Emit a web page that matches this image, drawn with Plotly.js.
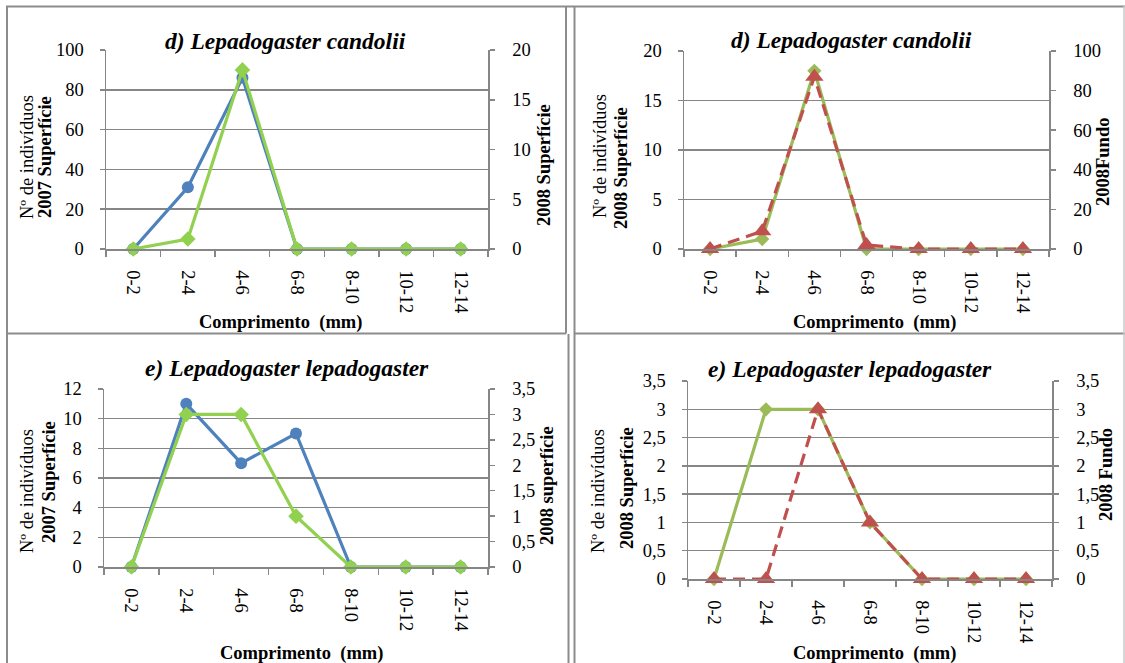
<!DOCTYPE html>
<html>
<head>
<meta charset="utf-8">
<script src="https://cdn.plot.ly/plotly-3.0.1.min.js"></script>
<style>html,body{margin:0;padding:0;background:#fff;}#chart{width:1125px;height:663px;}</style>
</head>
<body>
<div id="chart"></div>
<script>
// ---- data ----
const categories = ['0-2','2-4','4-6','6-8','8-10','10-12','12-14'];
const d_sup2007   = [0, 31, 86, 0, 0, 0, 0];
const d_sup2008   = [0, 1, 18, 0, 0, 0, 0];
const d_fundo2008 = [0, 9, 87, 2, 0, 0, 0];
const e_sup2007   = [0, 11, 7, 9, 0, 0, 0];
const e_sup2008   = [0, 3, 3, 1, 0, 0, 0];
const e_fundo2008 = [0, 0, 3, 1, 0, 0, 0];

const titleD = '<b><i>d) Lepadogaster candolii</i></b>';
const titleE = '<b><i>e) Lepadogaster lepadogaster</i></b>';
const yTitle1 = 'Nº de indivíduos';
const xTitle = '<b>Comprimento  (mm)</b>';

// ---- helpers ----
const W = 1125, H = 663;
const px = v => v / W;
const py = v => 1 - v / H;
const FONT = 'Liberation Serif';
const GRID = '#868686';
const BLUE = '#4F81BD', LIME = '#92D050', OLIVE = '#9BBB59', RED = '#C0504D';
const TS = 18.5;

function xAxis(x0, x1, anchor) {
  return {
    type: 'category', categoryorder: 'array', categoryarray: categories,
    range: [-0.5, 6.5], domain: [px(x0), px(x1)], anchor: anchor,
    showline: true, linecolor: GRID, linewidth: 1.5,
    ticks: 'outside', tickson: 'boundaries', ticklen: 6, tickcolor: GRID, tickwidth: 1.5,
    tickangle: 90, ticklabelstandoff: 16,
    tickfont: {family: FONT, size: TS, color: '#000'},
    showgrid: false, zeroline: false, fixedrange: true
  };
}
function yLeft(y0, y1, anchor, max, dtick) {
  return {
    domain: [py(y1), py(y0)], anchor: anchor, range: [0, max], dtick: dtick,
    showline: true, linecolor: GRID, linewidth: 1.5,
    ticks: 'outside', ticklen: 5, tickcolor: GRID, tickwidth: 1.5,
    showgrid: true, gridcolor: GRID, gridwidth: 1.5, zeroline: false,
    ticklabelstandoff: 12,
    tickfont: {family: FONT, size: TS, color: '#000'}, fixedrange: true
  };
}
function yRight(y0, y1, anchor, over, max, dtick) {
  return {
    domain: [py(y1), py(y0)], anchor: anchor, overlaying: over, side: 'right',
    range: [0, max], dtick: dtick,
    showline: true, linecolor: GRID, linewidth: 1.5,
    ticks: 'outside', ticklen: 5, tickcolor: GRID, tickwidth: 1.5,
    showgrid: false, zeroline: false, ticklabelstandoff: 14,
    tickfont: {family: FONT, size: TS, color: '#000'}, fixedrange: true
  };
}
function line(y, xa, ya, color, symbol, dash, msize) {
  return {
    type: 'scatter', mode: 'lines+markers', x: categories, y: y,
    xaxis: xa, yaxis: ya, cliponaxis: false,
    line: {color: color, width: 3.2, dash: dash || 'solid'},
    marker: {color: color, symbol: symbol, size: msize || 10, line: {width: 0}},
    hoverinfo: 'skip', showlegend: false
  };
}

const traces = [
  line(d_sup2007, 'x', 'y', BLUE, 'circle', null, 12),
  line(d_sup2008, 'x', 'y2', LIME, 'diamond', null, 12),
  line(d_sup2008, 'x2', 'y3', OLIVE, 'diamond', null, 11),
  line(d_fundo2008, 'x2', 'y4', RED, 'triangle-up', '12px,7px', 16),
  line(e_sup2007, 'x3', 'y5', BLUE, 'circle', null, 12),
  line(e_sup2008, 'x3', 'y6', LIME, 'diamond', null, 12),
  line(e_sup2008, 'x4', 'y7', OLIVE, 'diamond', null, 11),
  line(e_fundo2008, 'x4', 'y8', RED, 'triangle-up', '12px,7px', 16)
];

function ann(text, x, y, size, angle) {
  return {text: text, x: px(x), y: py(y), xref: 'paper', yref: 'paper',
    xanchor: 'center', yanchor: 'middle', showarrow: false, textangle: angle || 0,
    font: {family: FONT, size: size, color: '#000'}};
}

const TT = 23.5, AT = 18.5;
const annotations = [
  ann(titleD, 285, 41, TT),
  ann(yTitle1, 27, 157, AT, -90),
  ann('<b>2007 Superfície</b>', 45, 157, AT, -90),
  ann('<b>2008 Superfície</b>', 544, 165, AT, -90),
  ann(xTitle, 280, 322, AT),

  ann(titleD, 851, 40, TT),
  ann(yTitle1, 600, 156, AT, -90),
  ann('<b>2008 Superfície</b>', 621, 168, AT, -90),
  ann('<b>2008Fundo</b>', 1103, 162, AT, -90),
  ann(xTitle, 874, 322, AT),

  ann(titleE, 287, 368, TT),
  ann(yTitle1, 27, 491, AT, -90),
  ann('<b>2007 Superfície</b>', 49, 482, AT, -90),
  ann('<b>2008 superfície</b>', 547, 486, AT, -90),
  ann(xTitle, 301, 653, AT),

  ann(titleE, 850, 369, TT),
  ann(yTitle1, 598, 491, AT, -90),
  ann('<b>2008 Superfície</b>', 627, 488, AT, -90),
  ann('<b>2008 Fundo</b>', 1106, 475, AT, -90),
  ann(xTitle, 874, 653, AT)
];

function seg(x0, y0, x1, y1, w, c) {
  return {type: 'line', xref: 'paper', yref: 'paper',
    x0: px(x0), y0: py(y0), x1: px(x1), y1: py(y1),
    line: {color: c || '#8c8c8c', width: w || 2}};
}
const shapes = [
  seg(6, 6.5, 1125, 6.5),
  seg(7, 6, 7, 663),
  seg(7, 333.5, 566, 333.5),
  seg(575, 333.5, 1125, 333.5),
  seg(566, 6, 566, 333.5),
  seg(568.5, 334, 568.5, 663),
  seg(574.5, 6, 574.5, 663),
  seg(1124, 6, 1124, 663, 1.5, '#c8c8c8')
];

const layout = {
  width: W, height: H, margin: {l: 0, r: 0, t: 0, b: 0, pad: 0},
  paper_bgcolor: '#fff', plot_bgcolor: 'rgba(0,0,0,0)',
  separators: ',.', showlegend: false,
  font: {family: FONT, size: 18, color: '#000'},
  xaxis: xAxis(106, 488, 'y'),
  yaxis: yLeft(50, 249, 'x', 100, 20),
  yaxis2: yRight(50, 249, 'x', 'y', 20, 5),
  xaxis2: xAxis(684, 1049, 'y3'),
  yaxis3: yLeft(51, 249, 'x2', 20, 5),
  yaxis4: yRight(51, 249, 'x2', 'y3', 100, 20),
  xaxis3: xAxis(104, 488, 'y5'),
  yaxis5: yLeft(389, 567, 'x3', 12, 2),
  yaxis6: yRight(389, 567, 'x3', 'y5', 3.5, 0.5),
  xaxis4: xAxis(688, 1052, 'y7'),
  yaxis7: yLeft(381, 579, 'x4', 3.5, 0.5),
  yaxis8: yRight(381, 579, 'x4', 'y7', 3.5, 0.5),
  annotations: annotations,
  shapes: shapes
};

Plotly.newPlot('chart', traces, layout, {staticPlot: true, displayModeBar: false});
</script>
</body>
</html>
